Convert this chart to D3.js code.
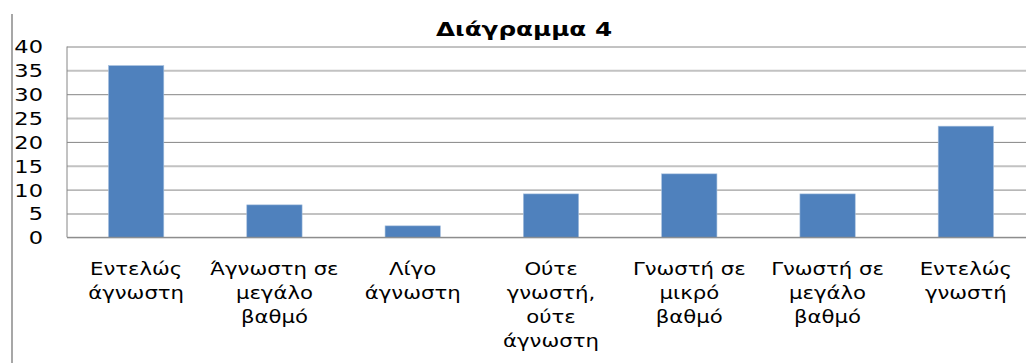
<!DOCTYPE html>
<html>
<head>
<meta charset="utf-8">
<script src="https://cdn.jsdelivr.net/npm/d3@7"></script>
<style>
  html, body { margin: 0; padding: 0; background: #fff; }
  svg { display: block; }
  text { font-family: "DejaVu Sans", Verdana, sans-serif; fill: #000; }
</style>
</head>
<body>
<svg id="chart" width="1026" height="363"></svg>
<script>
// Survey answers (percent of respondents)
const categories = [
  "Εντελώς άγνωστη",
  "Άγνωστη σε μεγάλο βαθμό",
  "Λίγο άγνωστη",
  "Ούτε γνωστή, ούτε άγνωστη",
  "Γνωστή σε μικρό βαθμό",
  "Γνωστή σε μεγάλο βαθμό",
  "Εντελώς γνωστή"
];
const values = [36, 6.8, 2.4, 9.1, 13.3, 9.1, 23.3];
// Category labels as they wrap under each bar
const tickLabels = [
  ["Εντελώς", "άγνωστη"],
  ["Άγνωστη σε", "μεγάλο", "βαθμό"],
  ["Λίγο", "άγνωστη"],
  ["Ούτε", "γνωστή,", "ούτε", "άγνωστη"],
  ["Γνωστή σε", "μικρό", "βαθμό"],
  ["Γνωστή σε", "μεγάλο", "βαθμό"],
  ["Εντελώς", "γνωστή"]
];
const yTicks = [0, 5, 10, 15, 20, 25, 30, 35, 40];
const title = "Διάγραμμα 4";

const svg = d3.select("#chart");
const plot = { left: 67, top: 46.5, bottom: 237.3, width: 968 };

const x = d3.scaleBand()
  .domain(categories)
  .range([plot.left, plot.left + plot.width])
  .paddingInner(0.6)
  .paddingOuter(0.3);

const y = d3.scaleLinear()
  .domain([0, 40])
  .range([plot.bottom, plot.top]);

// outer chart border (left edge)
svg.append("line")
  .attr("x1", 12).attr("x2", 12)
  .attr("y1", 14).attr("y2", 363)
  .attr("stroke", "#8a8a8a").attr("stroke-width", 1.5);

// horizontal gridlines
const grid = svg.append("g")
  .attr("transform", `translate(${plot.left},0)`)
  .call(d3.axisLeft(y).tickValues(yTicks).tickSize(-plot.width).tickFormat(""));
grid.select(".domain").remove();
grid.selectAll(".tick line")
  .attr("stroke", d => (d % 10 === 0) ? "#868686" : "#c2c2c2")
  .attr("stroke-width", d => (d % 10 === 0) ? 1 : 2);

// plot area left edge
svg.append("line")
  .attr("x1", plot.left).attr("x2", plot.left)
  .attr("y1", plot.top).attr("y2", plot.bottom)
  .attr("stroke", "#868686").attr("stroke-width", 1);

// y tick labels
const yAxis = svg.append("g")
  .attr("transform", "translate(43,0)")
  .call(d3.axisLeft(y).tickValues(yTicks).tickSize(0).tickPadding(0));
yAxis.select(".domain").remove();
yAxis.selectAll(".tick text")
  .attr("x", 0)
  .attr("dy", "0.36em")
  .attr("transform", "scale(1.25,1)")
  .style("font-size", "18px")
  .style("font-family", "'DejaVu Sans', Verdana, sans-serif")
  .attr("fill", "#000");

// bars
svg.append("g").selectAll("rect")
  .data(values)
  .join("rect")
  .attr("x", (d, i) => x(categories[i]))
  .attr("width", x.bandwidth())
  .attr("y", d => y(d))
  .attr("height", d => y(0) - y(d))
  .attr("fill", "#4f81bd")
  .attr("stroke", "#a7c0de")
  .attr("stroke-width", 0.6);

// baseline
svg.append("line")
  .attr("x1", plot.left).attr("x2", plot.left + plot.width)
  .attr("y1", y(0)).attr("y2", y(0))
  .attr("stroke", "#868686").attr("stroke-width", 1);

// category labels
const labels = svg.append("g").selectAll("g")
  .data(tickLabels)
  .join("g")
  .attr("transform", (d, i) => `translate(${x(categories[i]) + x.bandwidth() / 2},275) scale(1.18,1)`);
labels.selectAll("text")
  .data(d => d)
  .join("text")
  .attr("text-anchor", "middle")
  .attr("y", (d, j) => j * 24)
  .style("font-size", "18px")
  .text(d => d);

// title
svg.append("g")
  .attr("transform", "translate(524,36) scale(1.3,1)")
  .append("text")
  .attr("text-anchor", "middle")
  .style("font-size", "19px")
  .style("font-weight", "bold")
  .text(title);
</script>
</body>
</html>
